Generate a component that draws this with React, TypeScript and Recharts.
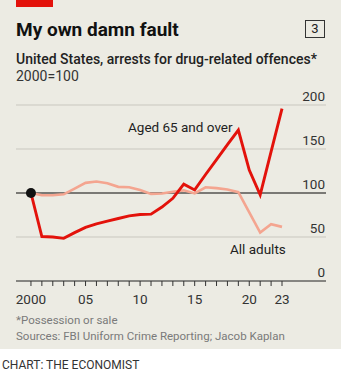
import { LineChart, Line, XAxis, YAxis, CartesianGrid, ReferenceLine, ReferenceDot } from 'recharts';

const years = [2000, 2001, 2002, 2003, 2004, 2005, 2006, 2007, 2008, 2009, 2010, 2011, 2012, 2013, 2014, 2015, 2016, 2017, 2018, 2019, 2020, 2021, 2022, 2023];
const aged65 = [100, 50.5, 50, 48.5, 55, 61, 65, 68, 71, 74, 75.5, 76, 84, 94, 110, 103.5, 121, 138, 155, 171.5, 126, 98, 147, 196];
const allAdults = [100, 97.5, 97.5, 98.5, 105, 111.5, 113, 111, 107, 106.5, 103.5, 99, 99.5, 101.5, 103, 99.5, 106.5, 105.5, 104, 101, 78, 55, 64.5, 61.5];
const yTicks = [0, 50, 100, 150, 200];
const xLabels: Record<number, string> = { 2000: '2000', 2005: '05', 2010: '10', 2015: '15', 2020: '20', 2023: '23' };

const data = years.map((year, i) => ({ year, aged65: aged65[i], all: allAdults[i] }));

const RED = '#e3120b';
const PINK = '#f4a590';
const FONT = 'Roboto, "Noto Sans", sans-serif';

// y labels sit just above their gridline, right-aligned
const yLabel = (value: number) => (props: any) => (
  <text x={325} y={props.viewBox.y - 4} textAnchor="end" fontSize={13.5} fill="#333" fontFamily={FONT}>
    {value}
  </text>
);

const txt = (top: number, left: number, size: number, extra: any = {}) => ({
  position: 'absolute' as const, top, left, fontSize: size, lineHeight: 1, whiteSpace: 'nowrap' as const, ...extra,
});

export default function App() {
  return (
    <div style={{ position: 'absolute', left: 0, top: 0, width: 341, height: 372, background: '#fff', fontFamily: FONT, overflow: 'hidden' }}>
      <div style={{ position: 'absolute', left: 0, top: 0, width: 341, height: 349, background: '#ecebe3' }} />
      <div style={{ position: 'absolute', left: 16, top: 0, width: 37, height: 7, background: RED }} />
      <div style={txt(19.5, 16, 19, { fontWeight: 700, color: '#111' })}>My own damn fault</div>
      <div style={{ position: 'absolute', left: 305, top: 20, width: 18, height: 16, border: '1px solid #333', fontSize: 13, lineHeight: '16px', textAlign: 'center', color: '#222' }}>3</div>
      <div style={txt(51.5, 16, 14, { fontWeight: 500, color: '#222' })}>United States, arrests for drug-related offences*</div>
      <div style={txt(68.5, 16, 14, { color: '#333' })}>2000=100</div>

      <div style={{ position: 'absolute', left: 0, top: 0 }}>
        <LineChart width={341} height={320} data={data} margin={{ top: 105, right: 15, left: 16, bottom: 9 }}>
          <CartesianGrid vertical={false} stroke="#c9c7bf" strokeWidth={1} />
          <XAxis
            dataKey="year"
            type="number"
            domain={[1998.63, 2027.03]}
            allowDataOverflow
            ticks={years}
            interval={0}
            tickFormatter={(v: number) => xLabels[v] ?? ''}
            tickSize={5}
            tickMargin={8}
            height={30}
            axisLine={{ stroke: '#333', strokeWidth: 1 }}
            tickLine={{ stroke: '#333', strokeWidth: 1 }}
            tick={{ fontSize: 13.5, fill: '#333', fontFamily: FONT }}
          />
          <YAxis hide domain={[0, 200]} ticks={yTicks} />
          <ReferenceLine y={100} stroke="#1a1a1a" strokeWidth={1.2} />
          {yTicks.map((v) => (
            <ReferenceLine key={v} y={v} stroke="none" label={yLabel(v)} />
          ))}
          <Line dataKey="all" stroke={PINK} strokeWidth={2.6} dot={false} isAnimationActive={false} />
          <Line dataKey="aged65" stroke={RED} strokeWidth={2.9} dot={false} isAnimationActive={false} />
          <ReferenceDot x={2000} y={100} r={5} fill="#111" stroke="none" />
        </LineChart>
      </div>

      <div style={txt(120.5, 128, 13.5, { color: '#222' })}>Aged 65 and over</div>
      <div style={txt(242.5, 230, 13.5, { color: '#222' })}>All adults</div>

      <div style={txt(314.5, 16, 11.5, { color: '#7a7a7a' })}>*Possession or sale</div>
      <div style={txt(330.5, 16, 11.5, { color: '#7a7a7a' })}>Sources: FBI Uniform Crime Reporting; Jacob Kaplan</div>
      <div style={txt(358.5, 2, 12, { color: '#333' })}>CHART: THE ECONOMIST</div>
    </div>
  );
}
